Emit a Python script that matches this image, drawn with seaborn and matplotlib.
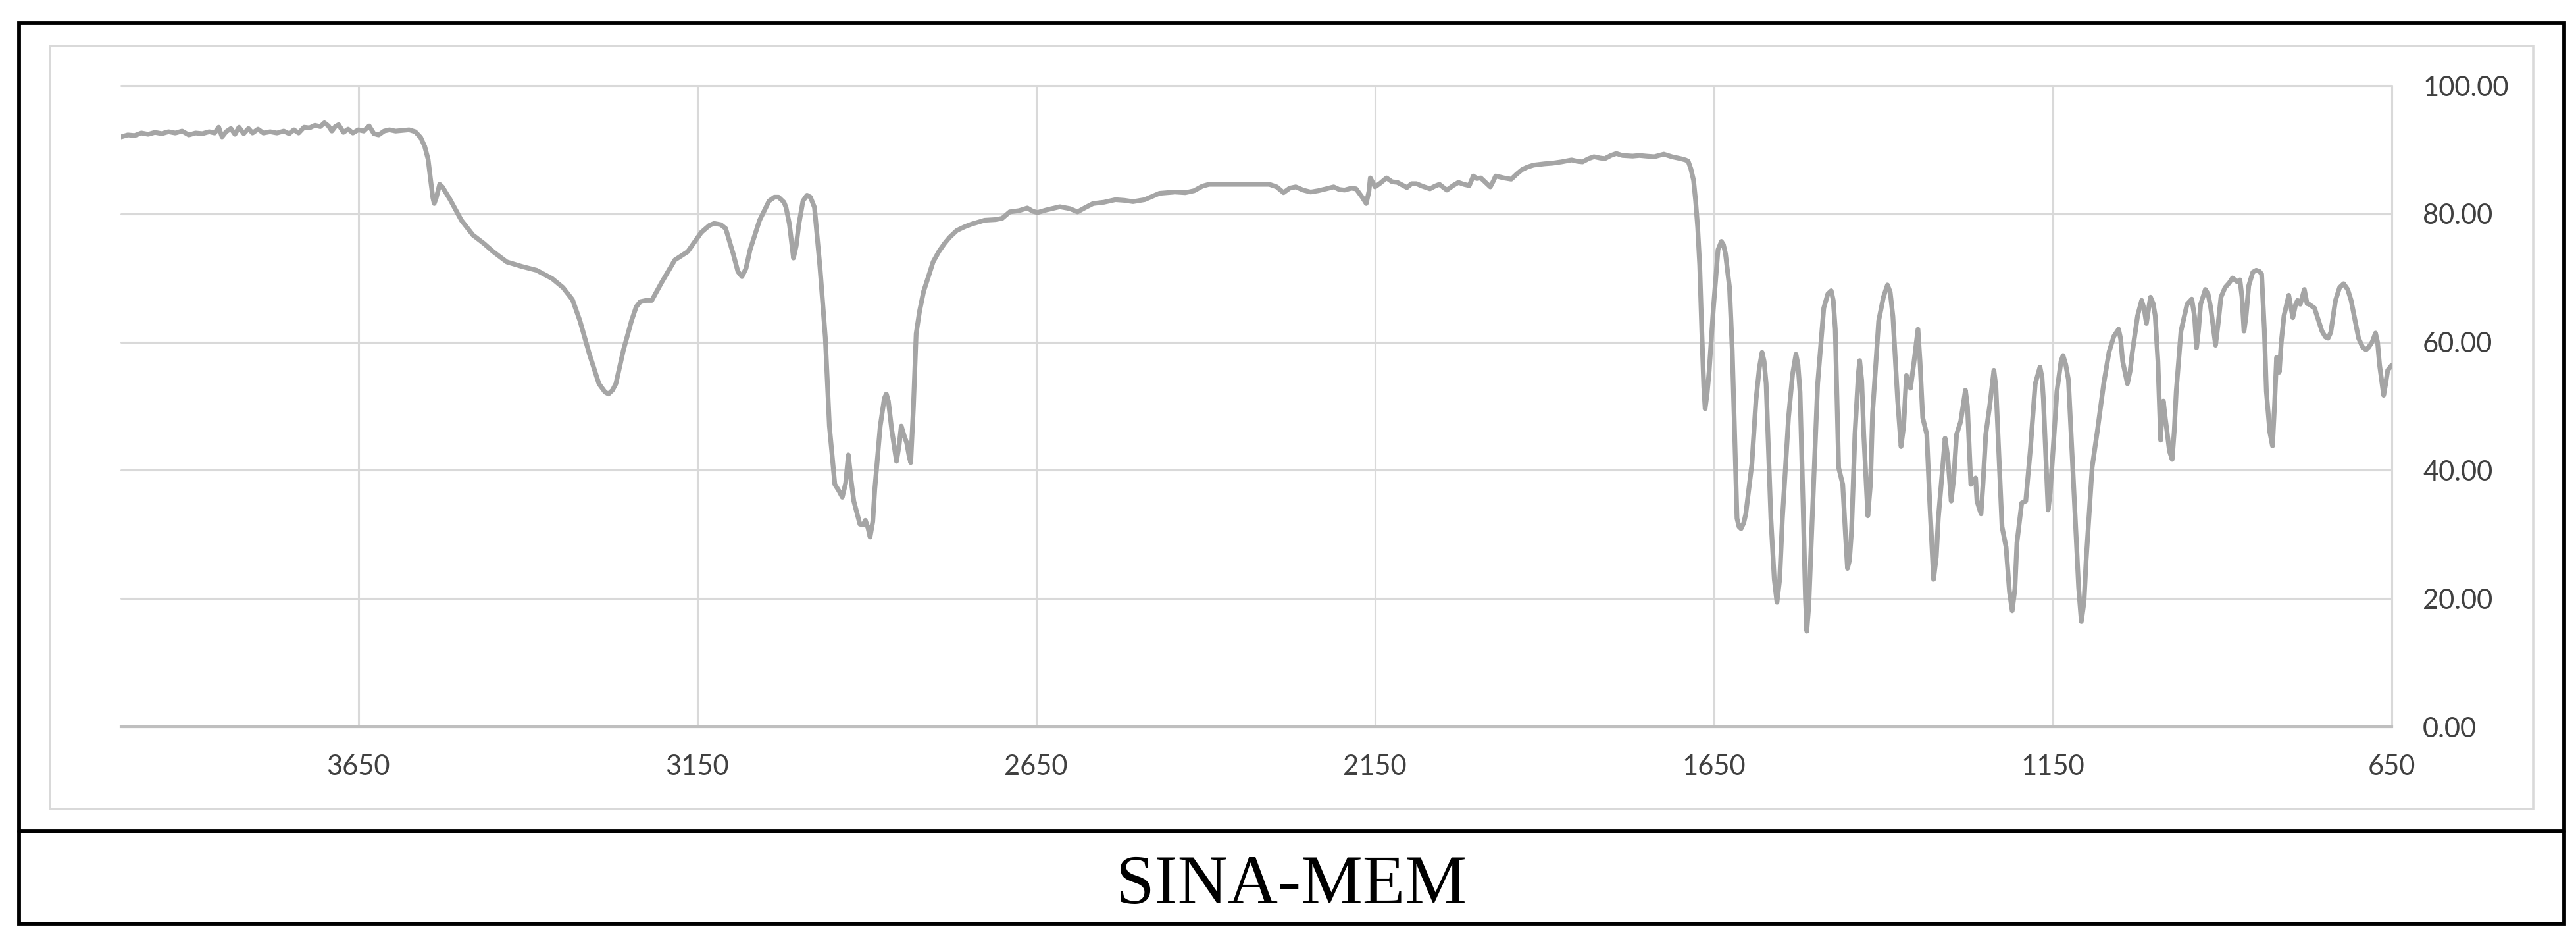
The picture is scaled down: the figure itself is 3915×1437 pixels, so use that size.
import numpy as np
import pandas as pd
import matplotlib
matplotlib.use("Agg")
import matplotlib.pyplot as plt
from matplotlib.patches import Rectangle
from matplotlib.lines import Line2D
import seaborn as sns

# FTIR spectrum of SINA-MEM (wavenumber cm-1, transmittance %)
# 1. high-wavenumber baseline + O-H band
wn_oh = [4000, 3990, 3980, 3970, 3960, 3950, 3940, 3930, 3920, 3910, 3900, 3890, 3880, 3870,
         3862, 3856, 3851, 3845, 3838, 3832, 3826, 3819, 3812, 3806, 3798, 3790, 3780, 3770,
         3760, 3752, 3745, 3738, 3730, 3722, 3714, 3706, 3700, 3694, 3689, 3684, 3679, 3672,
         3665, 3658, 3650, 3642, 3634, 3627, 3620, 3612, 3604, 3595, 3585, 3575, 3566, 3558,
         3552, 3547, 3543, 3540, 3538, 3535, 3530, 3526, 3515, 3498, 3481, 3465, 3451, 3431,
         3409, 3387, 3364, 3348, 3334, 3323, 3309, 3295, 3286, 3281, 3275, 3270, 3259, 3247,
         3240, 3234, 3225, 3217, 3203, 3183, 3164, 3144, 3132, 3125, 3115, 3108, 3097, 3090,
         3084, 3078, 3072, 3058, 3044, 3036, 3030, 3022, 3019, 3014, 3008, 3004, 3000, 2994,
         2988, 2983, 2977]
tr_oh = [92.0, 92.3, 92.2, 92.6, 92.4, 92.7, 92.5, 92.8, 92.6, 92.9, 92.3, 92.6, 92.5, 92.8,
         92.6, 93.5, 92.0, 92.8, 93.3, 92.4, 93.5, 92.5, 93.3, 92.6, 93.2, 92.6, 92.8, 92.6,
         92.9, 92.5, 93.1, 92.6, 93.5, 93.4, 93.8, 93.6, 94.2, 93.7, 92.9, 93.6, 93.9, 92.7,
         93.2, 92.6, 93.1, 92.9, 93.7, 92.5, 92.3, 92.9, 93.1, 92.9, 93.0, 93.1, 92.8, 91.9,
         90.5, 88.5, 85.0, 82.5, 81.6, 82.5, 84.6, 84.2, 82.3, 79.0, 76.7, 75.4, 74.1, 72.5,
         71.8, 71.2, 69.9, 68.5, 66.6, 63.3, 58.1, 53.5, 52.2, 51.9, 52.5, 53.5, 58.7, 63.3,
         65.5, 66.3, 66.5, 66.5, 69.2, 72.8, 74.1, 77.1, 78.2, 78.5, 78.3, 77.7, 73.8, 71.0,
         70.2, 71.5, 74.4, 79.0, 82.0, 82.6, 82.6, 81.8, 81.0, 78.4, 73.1, 75.0, 78.4, 82.0,
         82.9, 82.6, 81.0]

# 2. C-H stretching band
wn_ch = [2969, 2961, 2955, 2947, 2941, 2936, 2931, 2927, 2923, 2919, 2910, 2905, 2902, 2898,
         2895, 2891, 2888, 2880, 2874, 2871, 2868, 2863, 2856, 2852, 2849, 2845, 2841, 2837,
         2835, 2831, 2827, 2822, 2816, 2808, 2802, 2793, 2785, 2778, 2767, 2755, 2745]
tr_ch = [71.8, 60.7, 46.9, 37.8, 36.8, 35.8, 38.0, 42.4, 38.5, 35.2, 31.6, 31.5, 32.2, 31.0,
         29.6, 32.0, 37.1, 46.9, 51.2, 51.9, 50.8, 46.3, 41.4, 44.0, 46.9, 45.5, 44.3, 42.0,
         41.2, 50.0, 61.3, 64.8, 67.9, 70.5, 72.5, 74.2, 75.4, 76.3, 77.4, 78.0, 78.4]

# 3. flat middle region
wn_mid = [2726, 2710, 2700, 2689, 2675, 2663, 2655, 2648, 2635, 2615, 2600, 2589, 2577, 2566,
          2550, 2533, 2520, 2507, 2490, 2468, 2445, 2430, 2417, 2405, 2395, 2362, 2340, 2320,
          2306, 2295, 2285, 2276, 2267, 2256, 2245, 2234, 2222, 2211, 2203, 2195, 2185, 2178,
          2169, 2163, 2159, 2157, 2153, 2150, 2142, 2133, 2125, 2117, 2110, 2103, 2096, 2089,
          2080, 2069, 2062, 2055, 2049, 2044, 2035, 2027, 2019, 2011, 2005, 2000, 1994, 1987,
          1980, 1976, 1972, 1960, 1949, 1941, 1933, 1925, 1916, 1900, 1888, 1875, 1860, 1852,
          1844, 1835, 1827, 1818, 1811, 1802, 1794, 1785, 1770, 1760, 1750, 1738, 1724, 1712,
          1699, 1692, 1688, 1684, 1680, 1677, 1674]
tr_mid = [79.0, 79.1, 79.3, 80.3, 80.5, 80.9, 80.4, 80.2, 80.6, 81.1, 80.8, 80.3, 81.0, 81.6,
          81.8, 82.2, 82.1, 81.9, 82.2, 83.2, 83.4, 83.3, 83.6, 84.3, 84.6, 84.6, 84.6, 84.6,
          84.6, 84.2, 83.3, 84.0, 84.2, 83.7, 83.4, 83.6, 83.9, 84.2, 83.8, 83.7, 84.0, 83.9,
          82.6, 81.6, 83.5, 85.6, 84.8, 84.2, 84.8, 85.6, 85.0, 84.9, 84.5, 84.1, 84.7, 84.7,
          84.3, 83.9, 84.3, 84.6, 84.1, 83.7, 84.4, 84.9, 84.6, 84.4, 85.9, 85.5, 85.6, 84.9,
          84.2, 85.0, 85.9, 85.6, 85.4, 86.2, 86.9, 87.3, 87.6, 87.8, 87.9, 88.1, 88.4, 88.2,
          88.1, 88.6, 88.9, 88.7, 88.6, 89.1, 89.4, 89.1, 89.0, 89.1, 89.0, 88.9, 89.3, 88.9,
          88.6, 88.4, 88.2, 87.0, 85.2, 82.0, 77.9]

# 4. fingerprint region
wn_fp = [1671, 1668, 1665, 1663, 1660, 1657, 1651, 1644, 1639, 1636, 1633, 1627, 1623, 1619,
         1616, 1613, 1610, 1606, 1603, 1594, 1588, 1583, 1579, 1576, 1573, 1566, 1561, 1557,
         1553, 1549, 1540, 1534, 1529, 1526, 1523, 1518, 1515, 1513, 1510, 1505, 1497, 1488,
         1482, 1477, 1474, 1471, 1466, 1460, 1456, 1453, 1450, 1447, 1442, 1437, 1435, 1432,
         1429, 1423, 1419, 1416, 1407, 1400, 1394, 1390, 1386, 1379, 1374, 1370, 1366, 1360,
         1355, 1349, 1346, 1342, 1336, 1332, 1326, 1322, 1319, 1309, 1305, 1300, 1296, 1292,
         1286, 1279, 1276, 1271, 1264, 1262, 1256, 1253, 1249, 1243, 1237, 1234, 1232, 1225,
         1219, 1214, 1210, 1206, 1203, 1196, 1190, 1183, 1176, 1169, 1166, 1164, 1157, 1154,
         1151, 1144, 1138, 1135, 1131, 1127, 1118, 1112, 1108, 1104, 1101, 1092, 1084, 1075,
         1067, 1060, 1053, 1050, 1047, 1040, 1036, 1033, 1025, 1019, 1015, 1012, 1009, 1006,
         1002, 999, 995, 991, 989, 987, 984, 982, 978, 974, 971, 968, 961, 952, 945, 941, 938,
         935, 932, 925, 921, 917, 910, 906, 902, 896, 890, 885, 878, 874, 871, 868, 865, 861,
         855, 850, 845, 842, 838, 835, 830, 826, 823, 820, 818, 816, 813, 809, 802, 796, 792,
         789, 785, 779, 775, 772, 764, 753, 748, 744, 740, 733, 727, 721, 715, 710, 699, 693,
         688, 684, 679, 674, 671, 668, 662, 659, 656, 650]
tr_fp = [72.0, 62.0, 53.0, 49.6, 52.0, 55.5, 65.0, 74.4, 75.7, 75.2, 73.8, 68.5, 58.7, 44.0,
         32.5, 31.2, 30.9, 31.8, 33.2, 41.0, 50.9, 56.0, 58.4, 57.0, 53.5, 32.5, 23.0, 19.4,
         23.0, 32.5, 48.2, 55.0, 58.1, 56.5, 52.2, 32.5, 20.0, 14.9, 19.0, 32.5, 53.5, 65.3,
         67.5, 68.0, 66.5, 62.0, 40.4, 37.8, 30.0, 24.7, 26.0, 30.6, 45.6, 55.0, 57.1, 54.0,
         45.6, 32.9, 38.0, 48.9, 63.3, 67.0, 68.9, 67.8, 64.0, 50.9, 43.7, 47.0, 54.8, 52.8,
         56.8, 62.0, 57.0, 48.2, 45.6, 35.8, 23.0, 26.5, 32.5, 45.0, 42.0, 35.2, 39.0, 45.6,
         47.6, 52.5, 50.0, 37.8, 38.8, 35.2, 33.2, 38.0, 45.6, 50.2, 55.6, 53.0, 48.2, 31.2,
         28.0, 21.0, 18.1, 21.5, 28.7, 34.9, 35.2, 43.5, 53.5, 56.1, 54.5, 51.1, 33.8, 36.5,
         41.1, 52.3, 57.0, 57.9, 56.5, 54.1, 34.6, 21.7, 16.4, 19.5, 25.8, 40.5, 46.4, 53.5,
         58.5, 60.9, 62.0, 60.5, 57.0, 53.5, 55.5, 58.2, 64.1, 66.5, 65.0, 62.9, 65.0, 67.0,
         66.0, 64.1, 57.0, 44.7, 49.0, 50.8, 48.0, 46.4, 43.0, 41.7, 46.0, 52.3, 61.7, 65.9, 66.7, 64.0, 59.1,
         62.0, 65.9, 68.2, 67.5, 65.3, 59.5, 63.0, 67.0, 68.5, 69.2, 70.0, 69.4, 69.7, 67.0, 61.7, 64.0, 68.8,
         70.9, 71.2, 71.0, 70.6, 62.0, 52.3, 46.0, 43.8, 50.0, 57.6, 57.2, 55.3, 60.0, 64.1, 67.3, 63.8, 65.8,
         66.5, 65.9, 68.2, 66.0, 65.9, 65.3, 61.7, 60.8, 60.6, 61.5, 66.5, 68.5, 69.1, 68.2, 66.5, 60.6, 59.2,
         58.8, 59.2, 60.0, 61.4, 60.0, 56.4, 51.7, 53.5, 55.6, 56.4]

x_ticks = [3650, 3150, 2650, 2150, 1650, 1150, 650]
y_ticks = [0, 20, 40, 60, 80, 100]
title = "SINA-MEM"

df = pd.DataFrame({
    "wavenumber": wn_oh + wn_ch + wn_mid + wn_fp,
    "transmittance": tr_oh + tr_ch + tr_mid + tr_fp,
})

sns.set_style("white")
plt.rcParams["font.family"] = ["Lato", "DejaVu Sans"]

W, H = 3916, 1437
fig = plt.figure(figsize=(W / 200, H / 200), dpi=200)

# plot area in pixels: left 184, right 3635, top 130, bottom 1104
ax = fig.add_axes([184 / W, 1 - 1104 / H, (3635 - 184) / W, (1104 - 130) / H])
sns.lineplot(data=df, x="wavenumber", y="transmittance", ax=ax, color="#a5a5a5",
             linewidth=2.6, estimator=None, sort=False)

ax.set_xlim(4000, 650)
ax.set_ylim(0, 100)
ax.set_xticks(x_ticks)
ax.set_xticklabels([str(v) for v in x_ticks])
ax.set_yticks(y_ticks)
ax.set_yticklabels([f"{v:.2f}" for v in y_ticks])
ax.yaxis.tick_right()
ax.set_xlabel("")
ax.set_ylabel("")
ax.tick_params(length=0, labelsize=15, colors="#404040")
ax.tick_params(axis="x", pad=15)
ax.tick_params(axis="y", pad=17)
ax.grid(True, color="#d9d9d9", linewidth=1.1)
ax.set_axisbelow(True)
for gl in ax.get_xgridlines() + ax.get_ygridlines():
    gl.set_clip_on(False)
for s in ["top", "left", "right"]:
    ax.spines[s].set_visible(False)
ax.spines["bottom"].set_color("#bfbfbf")
ax.spines["bottom"].set_linewidth(1.5)

# light chart-area frame and the black table box around it
fig.add_artist(Rectangle((76 / W, 1 - 1229 / H), (3850 - 76) / W, (1229 - 70) / H,
                         transform=fig.transFigure, fill=False, ec="#d9d9d9", lw=1.3))
fig.add_artist(Rectangle((29 / W, 1 - 1403 / H), (3897 - 29) / W, (1403 - 35) / H,
                         transform=fig.transFigure, fill=False, ec="black", lw=2.1))
fig.add_artist(Line2D([29 / W, 3897 / W], [1 - 1263 / H, 1 - 1263 / H],
                      transform=fig.transFigure, color="black", lw=2.1))

fig.text(1963 / W, 1 - 1372 / H, title, ha="center", va="baseline", fontsize=38,
         family=["Liberation Serif", "DejaVu Serif"], color="black")

fig.savefig("out.png", dpi=200, facecolor="white")
